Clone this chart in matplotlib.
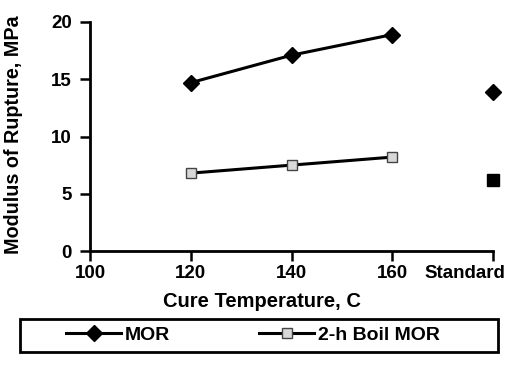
import matplotlib.pyplot as plt
from matplotlib.patches import Rectangle
from matplotlib.lines import Line2D
from matplotlib.transforms import ScaledTranslation

# Data
cure_temp = [120, 140, 160]
mor = [14.7, 17.1, 18.9]
boil_mor = [6.8, 7.5, 8.2]
standard_x = 180
mor_standard = 13.9
boil_standard = 6.2

xticks = [100, 120, 140, 160, 180]
xtick_labels = ["100", "120", "140", "160", "Standard"]
yticks = [0, 5, 10, 15, 20]

plt.rcParams['font.family'] = ['Liberation Sans', 'DejaVu Sans']
plt.rcParams['font.weight'] = 'bold'

fig = plt.figure(figsize=(5.1, 3.67), dpi=100)
ax = fig.add_axes([90 / 510, 1 - 251 / 367, 403 / 510, 229 / 367])

# MOR series
ax.plot(cure_temp, mor, color='black', lw=2.2, marker='D', ms=8,
        mfc='black', mec='black', clip_on=False)
ax.plot([standard_x], [mor_standard], ls='none', marker='D', ms=8,
        mfc='black', mec='black', clip_on=False)

# 2-h boil MOR series
ax.plot(cure_temp, boil_mor, color='black', lw=2.2, marker='s', ms=7,
        mfc='#d8d8d8', mec='#444444', mew=1.0, clip_on=False)
ax.plot([standard_x], [boil_standard], ls='none', marker='s', ms=8,
        mfc='black', mec='black', clip_on=False)

ax.set_xlim(100, 180)
ax.set_ylim(0, 20)
ax.set_xticks(xticks)
ax.set_xticklabels(xtick_labels)
ax.set_yticks(yticks)
ax.tick_params(axis='x', direction='out', length=7, width=1.8, labelsize=13.5, pad=3)
ax.tick_params(axis='y', direction='out', length=7, width=1.8, labelsize=13.5, pad=6)
for lab in ax.get_xticklabels() + ax.get_yticklabels():
    lab.set_fontweight('bold')

# "Standard" sits to the left of its tick, ending near the edge
std_lab = ax.get_xticklabels()[-1]
std_lab.set_horizontalalignment('right')
std_lab.set_transform(std_lab.get_transform() + ScaledTranslation(12 / 100, 0, fig.dpi_scale_trans))

ax.spines['top'].set_visible(False)
ax.spines['right'].set_visible(False)
ax.spines['left'].set_linewidth(2)
ax.spines['bottom'].set_linewidth(2)

ax.set_xlabel("Cure Temperature, C", fontsize=14.5, fontweight='bold')
ax.xaxis.set_label_coords(0.427, -0.18)
ax.set_ylabel("Modulus of Rupture, MPa", fontsize=14.2, fontweight='bold')
ax.yaxis.set_label_coords(-0.166, 0.507)

# legend box across the bottom
fig.patches.append(Rectangle((20 / 510, 1 - 352 / 367), 478 / 510, 33 / 367,
                             transform=fig.transFigure, fill=False,
                             edgecolor='black', lw=2))
handles = [
    Line2D([], [], color='black', lw=2.2, marker='D', ms=8, mfc='black', mec='black'),
    Line2D([], [], color='black', lw=2.2, marker='s', ms=7, mfc='#d8d8d8', mec='#444444'),
]
fig.legend(handles, ["MOR", "2-h Boil MOR"], loc='center',
           bbox_to_anchor=(253 / 510, 1 - 335 / 367), ncol=2, frameon=False,
           prop={'size': 14, 'weight': 'bold'}, handlelength=2.8,
           handletextpad=0.2, columnspacing=4.6, borderpad=0)

fig.savefig("out.png", dpi=100)
